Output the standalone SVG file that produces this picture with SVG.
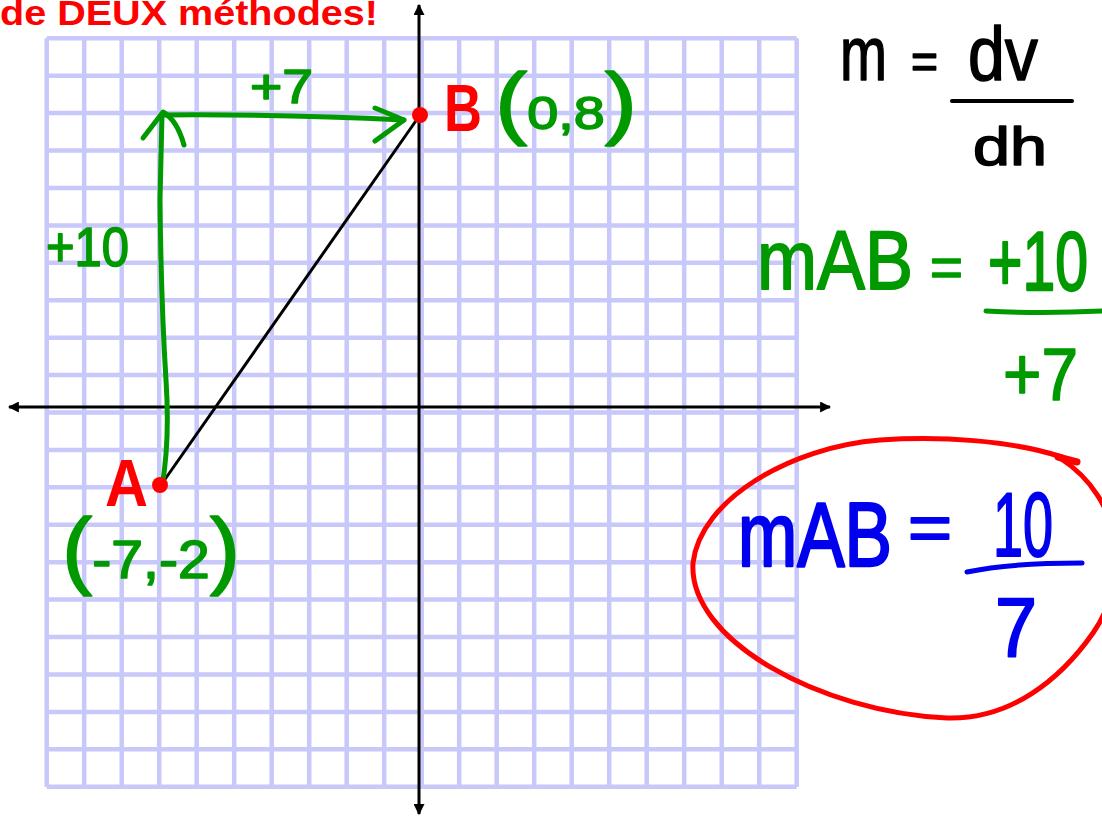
<svg xmlns="http://www.w3.org/2000/svg" width="1102" height="823" viewBox="0 0 1102 823">
<style>
.t{font-family:"Liberation Sans",Arial,sans-serif}
.g{fill:#009900;stroke:#009900;stroke-width:1.6;stroke-linejoin:round}
.r{fill:#ff0000;font-weight:bold}
.b{fill:#0000ee;stroke:#0000ee;stroke-width:2;stroke-linejoin:round}
.k{fill:#000;stroke:#000;stroke-width:1.5;stroke-linejoin:round}
.gs{fill:none;stroke:#009900;stroke-width:5;stroke-linecap:round;stroke-linejoin:round}
.bs{fill:none;stroke:#0000ee;stroke-width:5;stroke-linecap:round}
.axis{fill:none;stroke:#000;stroke-width:3}
</style>
<defs>
<marker id="ah" viewBox="0 0 10 10" refX="9" refY="5" markerWidth="11" markerHeight="11" markerUnits="userSpaceOnUse" orient="auto-start-reverse">
<path d="M0,0 L10,5 L0,10 z" fill="#000"/>
</marker>
</defs>
<rect width="1102" height="823" fill="#fff"/>
<g id="grid" fill="none" stroke="#c8c8fa" stroke-width="4.5">
<path d="M46.7,38.3V786.7M84.2,38.3V786.7M121.7,38.3V786.7M159.2,38.3V786.7M196.7,38.3V786.7M234.2,38.3V786.7M271.7,38.3V786.7M309.2,38.3V786.7M346.7,38.3V786.7M384.2,38.3V786.7M421.7,38.3V786.7M459.2,38.3V786.7M496.7,38.3V786.7M534.2,38.3V786.7M571.7,38.3V786.7M609.2,38.3V786.7M646.7,38.3V786.7M684.2,38.3V786.7M721.7,38.3V786.7M759.2,38.3V786.7M796.7,38.3V786.7"/>
<path d="M46.7,38.3H796.7M46.7,75.7H796.7M46.7,113.1H796.7M46.7,150.6H796.7M46.7,188H796.7M46.7,225.4H796.7M46.7,262.8H796.7M46.7,300.2H796.7M46.7,337.7H796.7M46.7,375.1H796.7M46.7,412.5H796.7M46.7,449.9H796.7M46.7,487.3H796.7M46.7,524.8H796.7M46.7,562.2H796.7M46.7,599.6H796.7M46.7,637H796.7M46.7,674.4H796.7M46.7,711.9H796.7M46.7,749.3H796.7M46.7,786.7H796.7"/>
</g>
<g id="title">
<text class="t r" x="0" y="25" font-size="35" textLength="378" lengthAdjust="spacingAndGlyphs">de DEUX méthodes!</text>
</g>
<g id="connectors">
<line class="axis" x1="419" y1="814" x2="419" y2="5" marker-start="url(#ah)" marker-end="url(#ah)"/>
<line class="axis" x1="9" y1="407" x2="830" y2="407" marker-start="url(#ah)" marker-end="url(#ah)"/>
<line x1="161" y1="485" x2="420" y2="115" stroke="#000" stroke-width="3"/>
<path class="gs" d="M162,487 Q170,440 166,380 Q161,300 160,200 L162,114"/>
<path class="gs" d="M143,138 L163,112 Q177,120 184,145"/>
<path class="gs" d="M163,115 Q280,114 404,120"/>
<path class="gs" d="M375,108 L404,120 L375,141"/>
</g>
<g id="point-B">
<circle cx="420" cy="115" r="8" fill="#ff0000"/>
<text class="t r" x="444" y="131" font-size="67" textLength="38" lengthAdjust="spacingAndGlyphs">B</text>
<text class="t g" x="495" y="129" textLength="142" lengthAdjust="spacingAndGlyphs"><tspan font-size="80">(</tspan><tspan font-size="46">0,8</tspan><tspan font-size="80">)</tspan></text>
</g>
<g id="point-A">
<circle cx="160" cy="485" r="8" fill="#ff0000"/>
<text class="t r" x="105" y="506" font-size="67" textLength="43" lengthAdjust="spacingAndGlyphs">A</text>
<text class="t g" x="62" y="578" textLength="178" lengthAdjust="spacingAndGlyphs"><tspan font-size="86">(</tspan><tspan font-size="54">-7,-2</tspan><tspan font-size="86">)</tspan></text>
</g>
<g id="label-run">
<text class="t g" x="250" y="103" font-size="48" textLength="63" lengthAdjust="spacingAndGlyphs">+7</text>
</g>
<g id="label-rise">
<text class="t g" x="46" y="266" font-size="55" textLength="83" lengthAdjust="spacingAndGlyphs">+10</text>
</g>
<g id="formula">
<text class="t k" x="840" y="80" font-size="76" textLength="47" lengthAdjust="spacingAndGlyphs">m</text>
<text class="t k" x="911" y="78" font-size="50" textLength="27" lengthAdjust="spacingAndGlyphs">=</text>
<text class="t k" x="968" y="80" font-size="76" textLength="70" lengthAdjust="spacingAndGlyphs">dv</text>
<line x1="952" y1="101" x2="1072" y2="101" stroke="#000" stroke-width="4" stroke-linecap="round"/>
<text class="t k" x="973" y="165" font-size="53" textLength="74" lengthAdjust="spacingAndGlyphs">dh</text>
</g>
<g id="slope-green">
<text class="t g" transform="translate(757,289) scale(1,1.17)" x="0" y="0" font-size="72" textLength="156" lengthAdjust="spacingAndGlyphs">mAB</text>
<text class="t g" x="930" y="286" font-size="56" textLength="33" lengthAdjust="spacingAndGlyphs">=</text>
<text class="t g" transform="translate(988,290) scale(1,1.42)" x="0" y="0" font-size="59" textLength="100" lengthAdjust="spacingAndGlyphs">+10</text>
<path class="gs" d="M986,311 Q1040,314 1104,311"/>
<text class="t g" x="1003" y="400" font-size="74" textLength="75" lengthAdjust="spacingAndGlyphs">+7</text>
</g>
<g id="slope-blue">
<path d="M1062,457 C1010,440 940,436 880,440 C790,447 700,500 693,563 C688,640 820,712 947,718 C1010,720 1060,680 1093,633 C1130,580 1125,500 1060,458" fill="none" stroke="#ff0000" stroke-width="5" stroke-linecap="round"/>
<path d="M1058,457 L1077,462" stroke="#ff0000" stroke-width="7" stroke-linecap="round"/>
<text class="t b" transform="translate(738,566) scale(1,1.27)" x="0" y="0" font-size="71" textLength="154" lengthAdjust="spacingAndGlyphs">mAB</text>
<text class="t b" x="908" y="550" font-size="64" textLength="44" lengthAdjust="spacingAndGlyphs">=</text>
<text class="t b" x="993" y="556" font-size="90" textLength="60" lengthAdjust="spacingAndGlyphs">10</text>
<path class="bs" d="M967,572 Q1010,563 1082,563"/>
<text class="t b" x="995" y="656" font-size="84" textLength="42" lengthAdjust="spacingAndGlyphs">7</text>
</g>
</svg>
